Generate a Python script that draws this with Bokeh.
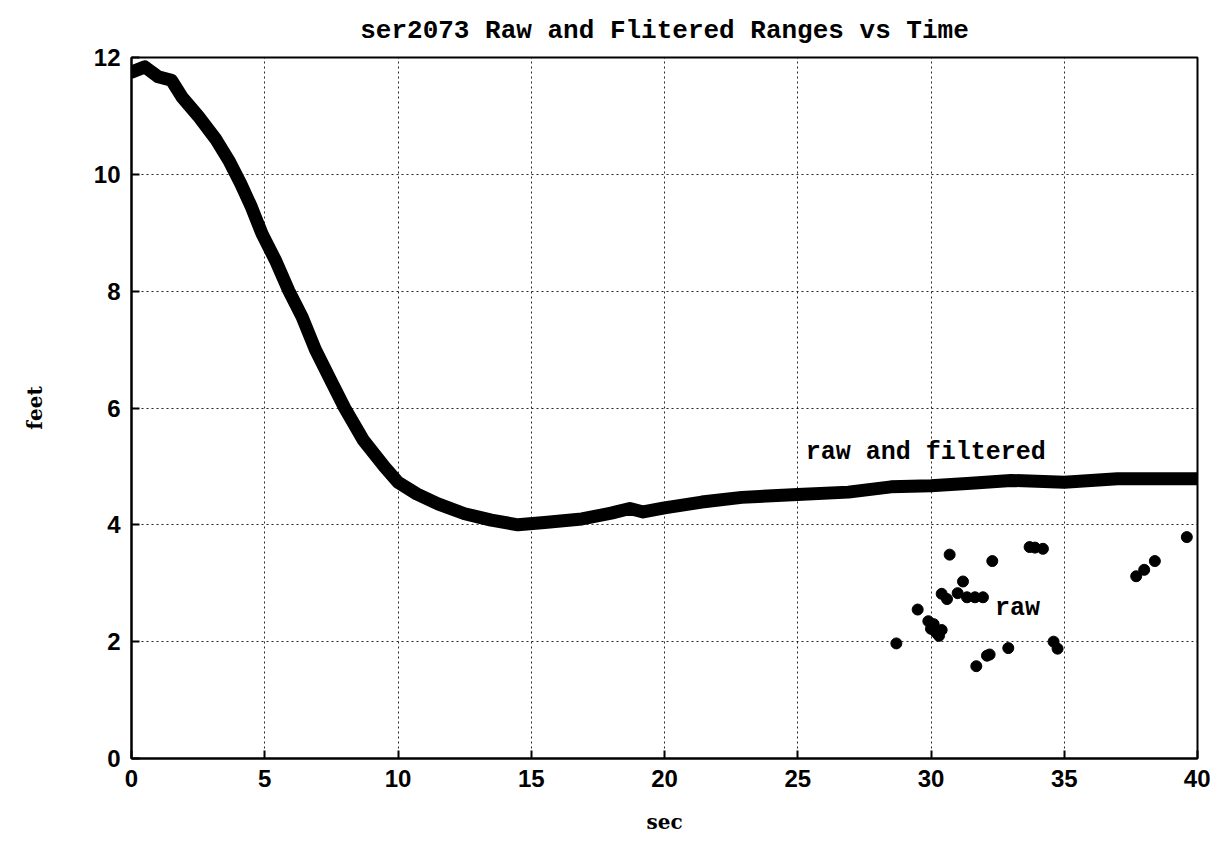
from bokeh.plotting import figure
from bokeh.models import FixedTicker, Label, Range1d
from bokeh.embed import file_html
from bokeh.resources import INLINE

# filtered / raw range (dense band)
filt_t = [0, 0.5, 1.0, 1.5, 1.9, 2.5, 3.15, 3.65, 4.1, 4.5, 4.9, 5.4, 5.9, 6.4,
          6.9, 7.5, 8.0, 8.7, 9.5, 10.0, 10.7, 11.5, 12.5, 13.5, 14.5, 15.5,
          16.9, 18.0, 18.7, 19.2, 20.0, 21.4, 22.9, 25.0, 26.9, 28.5, 30.0,
          31.5, 33.0, 35.0, 37.0, 40.0]
filt_ft = [11.75, 11.84, 11.67, 11.61, 11.32, 11.0, 10.61, 10.24, 9.84, 9.44,
           8.98, 8.53, 8.01, 7.56, 7.0, 6.45, 6.0, 5.45, 4.99, 4.73, 4.53,
           4.36, 4.19, 4.08, 4.0, 4.04, 4.1, 4.2, 4.28, 4.22, 4.29, 4.39,
           4.47, 4.52, 4.56, 4.65, 4.67, 4.71, 4.76, 4.73, 4.79, 4.79]

# scattered raw-only points
raw_t = [28.7, 29.5, 29.9, 30.0, 30.1, 30.2, 30.3, 30.4, 30.4, 30.6, 31.0,
         30.7, 31.2, 31.35, 31.65, 31.95, 32.3, 33.7, 33.9, 34.2, 31.7, 32.1,
         32.2, 32.9, 34.6, 34.75, 37.7, 38.0, 38.4, 39.6]
raw_ft = [1.97, 2.55, 2.35, 2.22, 2.3, 2.15, 2.1, 2.2, 2.82, 2.73, 2.83,
          3.49, 3.03, 2.76, 2.76, 2.76, 3.38, 3.62, 3.61, 3.59, 1.58, 1.76,
          1.78, 1.89, 2.0, 1.88, 3.12, 3.23, 3.38, 3.79]

x_ticks = [0, 5, 10, 15, 20, 25, 30, 35, 40]
y_ticks = [0, 2, 4, 6, 8, 10, 12]

p = figure(width=1210, height=855, x_range=Range1d(0, 40), y_range=Range1d(0, 12),
           output_backend="svg", toolbar_location=None,
           min_border_left=131, min_border_right=13, min_border_top=57,
           min_border_bottom=97,
           title="ser2073 Raw and Flitered Ranges vs Time")

p.background_fill_color = "white"
p.border_fill_color = "white"
p.outline_line_color = "black"
p.outline_line_width = 2

p.title.text_font = "Liberation Mono"
p.title.text_font_style = "bold"
p.title.text_font_size = "26px"
p.title.align = "center"
p.title.text_color = "black"
p.title.standoff = 23

for ax in (p.xaxis[0], p.yaxis[0]):
    ax.axis_line_color = "black"
    ax.axis_line_width = 2
    ax.major_tick_in = 8
    ax.major_tick_out = 0
    ax.major_tick_line_width = 2
    ax.major_tick_line_color = "black"
    ax.minor_tick_line_color = None
    ax.major_label_text_font = "Liberation Sans"
    ax.major_label_text_font_style = "bold"
    ax.major_label_text_font_size = "24px"
    ax.major_label_text_color = "black"
    ax.axis_label_text_font = "DejaVu Serif"
    ax.axis_label_text_font_style = "bold"
    ax.axis_label_text_font_size = "20px"
    ax.axis_label_text_color = "black"

p.xaxis.ticker = FixedTicker(ticks=x_ticks)
p.yaxis.ticker = FixedTicker(ticks=y_ticks)
p.xaxis.axis_label = "sec"
p.yaxis.axis_label = "feet"
p.xaxis.major_label_standoff = 11
p.yaxis.major_label_standoff = 11
p.xaxis.axis_label_standoff = 20
p.yaxis.axis_label_standoff = 44

p.grid.grid_line_color = "black"
p.grid.grid_line_dash = "2 3"
p.grid.grid_line_width = 1
p.grid.grid_line_alpha = 0.85

p.line(filt_t, filt_ft, line_width=13, line_color="black",
       line_join="round", line_cap="round")
p.scatter(raw_t, raw_ft, size=11, color="black")

p.add_layout(Label(x=25.3, y=5.24, text="raw and filtered", text_font="Liberation Mono",
                   text_font_style="bold", text_font_size="25px",
                   text_baseline="middle", text_color="black"))
p.add_layout(Label(x=32.4, y=2.57, text="raw", text_font="Liberation Mono",
                   text_font_style="bold", text_font_size="25px",
                   text_baseline="middle", text_color="black"))

open("out.html", "w").write(file_html(p, INLINE))
